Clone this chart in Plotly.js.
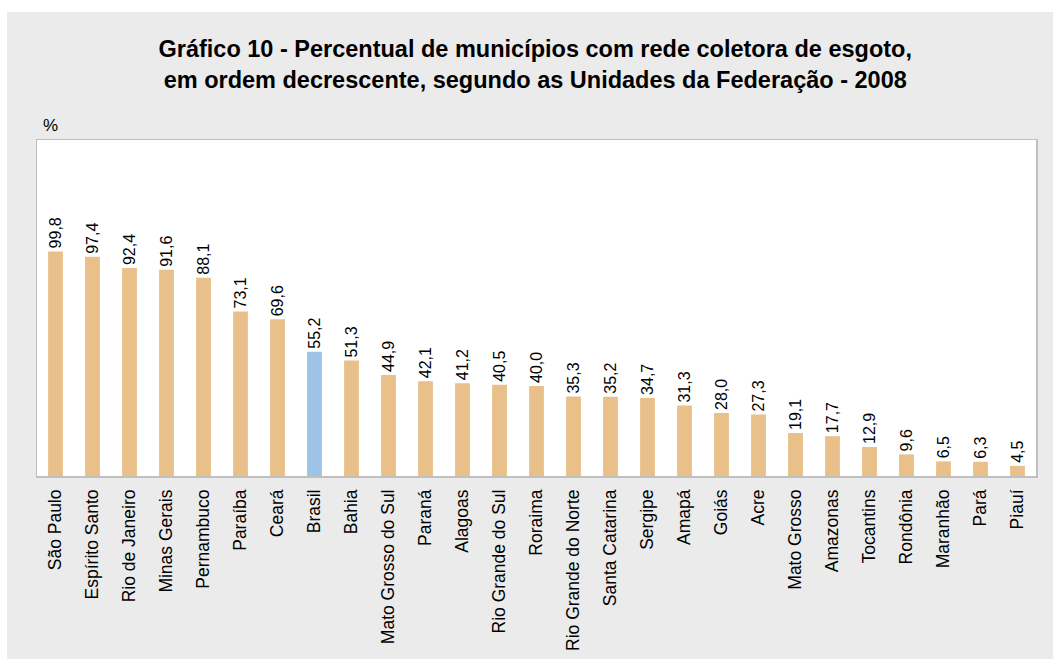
<!DOCTYPE html>
<html>
<head>
<meta charset="utf-8">
<script src="https://cdn.plot.ly/plotly-3.0.1.min.js"></script>
<style>
html,body{margin:0;padding:0;background:#ffffff;}
#chart{position:absolute;left:7px;top:12px;width:1046px;height:647px;}
</style>
</head>
<body>
<div id="chart"></div>
<script>
const categories = ["São Paulo","Espírito Santo","Rio de Janeiro","Minas Gerais","Pernambuco","Paraíba","Ceará","Brasil","Bahia","Mato Grosso do Sul","Paraná","Alagoas","Rio Grande do Sul","Roraima","Rio Grande do Norte","Santa Catarina","Sergipe","Amapá","Goiás","Acre","Mato Grosso","Amazonas","Tocantins","Rondônia","Maranhão","Pará","Piauí"];
const values = [99.8,97.4,92.4,91.6,88.1,73.1,69.6,55.2,51.3,44.9,42.1,41.2,40.5,40.0,35.3,35.2,34.7,31.3,28.0,27.3,19.1,17.7,12.9,9.6,6.5,6.3,4.5];
const highlight = "Brasil";

const colors = categories.map(c => c === highlight ? "#9dc3e6" : "#e9c08a");
const labels = values.map(v => v.toFixed(1).replace(".", ","));

const trace = {
  type: "bar",
  x: categories,
  y: values,
  marker: {color: colors},
  text: labels,
  textposition: "outside",
  textangle: -90,
  constraintext: "none",
  cliponaxis: false,
  textfont: {family: "Liberation Sans, Arial, sans-serif", size: 16, color: "#000000"},
  hoverinfo: "x+y"
};

const layout = {
  width: 1046,
  height: 647,
  paper_bgcolor: "#ebebeb",
  plot_bgcolor: "#ffffff",
  margin: {l: 30, r: 17, t: 128, b: 183},
  bargap: 0.6,
  showlegend: false,
  font: {family: "Liberation Sans, Arial, sans-serif", size: 14, color: "#000000"},
  title: {
    text: "<b>Gráfico 10 - Percentual de municípios com rede coletora de esgoto,<br>em ordem decrescente, segundo as Unidades da Federação - 2008</b>",
    font: {family: "Liberation Sans, Arial, sans-serif", size: 23.5, color: "#000000"},
    x: 0.505, xanchor: "center",
    y: 0.93, yanchor: "top"
  },
  xaxis: {
    type: "category",
    tickangle: -90,
    showline: true, linecolor: "#c0c0c0", linewidth: 1.5, mirror: true,
    ticks: "", showgrid: false,
    tickfont: {size: 17.5, color: "#000000"},
    ticklabelstandoff: 5,
    fixedrange: true
  },
  yaxis: {
    range: [0, 149.3],
    showline: true, linecolor: "#c0c0c0", linewidth: 1.5, mirror: true,
    showticklabels: false, ticks: "", showgrid: false, zeroline: false,
    fixedrange: true
  },
  annotations: [{
    text: "%", xref: "paper", yref: "paper", x: 0.004, y: 1.0,
    xanchor: "left", yanchor: "bottom", yshift: 3, showarrow: false,
    font: {size: 17, color: "#000000"}
  }]
};

Plotly.newPlot("chart", [trace], layout, {displayModeBar: false, staticPlot: true});
</script>
</body>
</html>
